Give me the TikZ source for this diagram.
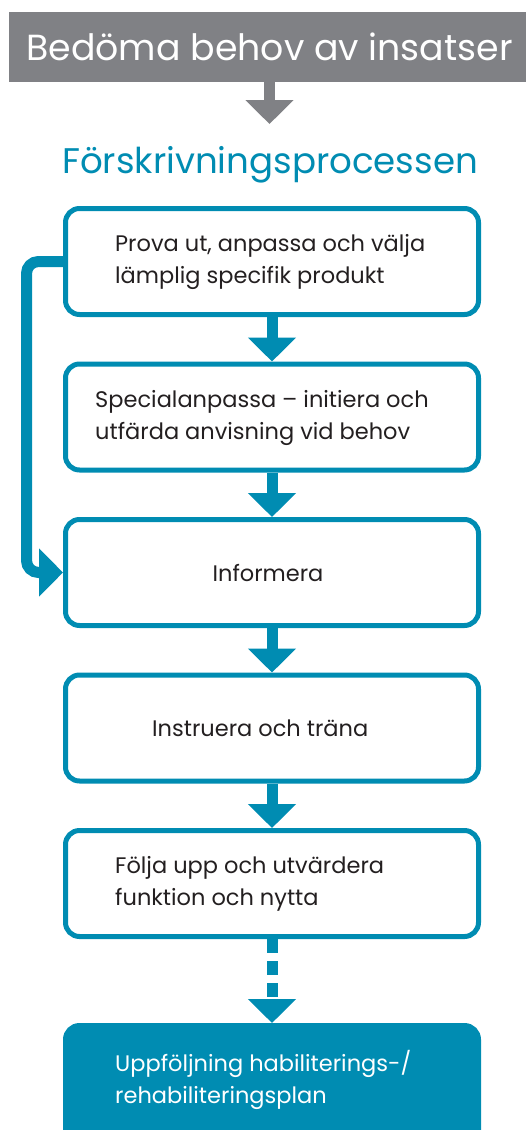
\documentclass[tikz,border=0pt]{standalone}
\usepackage{fontspec}
\setmainfont{Poppins}
\usetikzlibrary{arrows.meta,positioning}
\definecolor{hjblue}{RGB}{0,140,178}
\definecolor{hjgray}{RGB}{128,129,133}
\definecolor{hjtext}{RGB}{35,31,32}
\tikzset{
  stepbox/.style={draw=hjblue, line width=5pt, rounded corners=14pt,
    minimum width=413pt, minimum height=106pt, inner sep=0pt},
  steptext/.style={anchor=west, align=left, inner sep=0pt, text=hjtext,
    font=\fontsize{22.5}{32}\selectfont},
  flow/.style={hjblue, line width=11pt, -{Triangle[width=47pt,length=24pt]}},
}
\begin{document}
\begin{tikzpicture}[x=1pt,y=-1pt]
\useasboundingbox (0,0) rectangle (525,1130);
% header
\node[fill=hjgray, text=white, minimum width=521pt, minimum height=70pt, inner sep=0pt,
  font=\fontsize{36.3}{40}\selectfont] (banner) at (269.5,47) {Bedöma behov av insatser};
\coordinate (gtip) at (269.5,124);
\draw[flow, hjgray] (banner) -- (gtip);
\node[anchor=base, text=hjblue, inner sep=0pt, font=\fontsize{35.6}{40}\selectfont]
  (title) at (270,173) {Förskrivningsprocessen};
% steps
\node[stepbox] (b1) at (272,261.5) {};
\node[stepbox, below=44.5pt of b1] (b2) {};
\node[stepbox, below=44.5pt of b2] (b3) {};
\node[stepbox, below=44.5pt of b3] (b4) {};
\node[stepbox, below=44.5pt of b4] (b5) {};
\node[stepbox, fill=hjblue, minimum height=160pt, anchor=north] (b6) at (272,1023) {};
\node[steptext] (t1) at (115,262) {Prova ut, anpassa och välja\\lämplig specifik produkt};
\node[steptext] (t2) at (95,418) {Specialanpassa – initiera och\\utfärda anvisning vid behov};
\node[steptext, anchor=center] (t3) at (268,573) {Informera};
\node[steptext] (t4) at (152,728) {Instruera och träna};
\node[steptext] (t5) at (115,884) {Följa upp och utvärdera\\funktion och nytta};
\node[steptext, text=white] (t6) at (115,1080) {Uppföljning habiliterings-/\\rehabiliteringsplan};
% connectors
\foreach \a/\b in {b1/b2,b2/b3,b3/b4,b4/b5}
  \draw[flow] (\a) -- (\b);
\draw[flow, dash pattern=on 14pt off 8pt] (b5) -- (b6);
\draw[flow, rounded corners=12pt] (b1.west) -- ++(-36.5,0) |- (b3.west);
\end{tikzpicture}
\end{document}
